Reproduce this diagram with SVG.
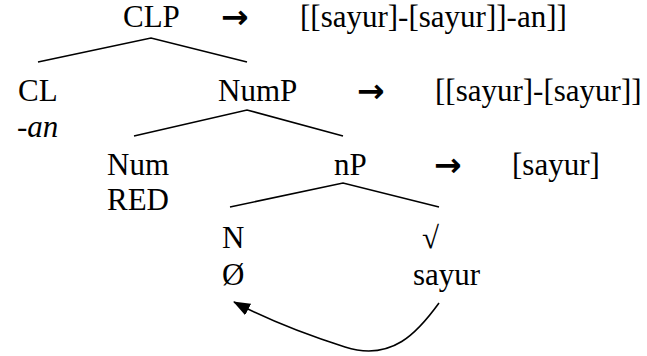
<svg xmlns="http://www.w3.org/2000/svg" width="647" height="356" viewBox="0 0 647 356">
<defs>
<marker id="ah" markerWidth="17" markerHeight="13" refX="16" refY="6.5" orient="auto" markerUnits="userSpaceOnUse">
<path d="M0,0 L17,6.5 L0,13 Z" fill="#000"/>
</marker>
</defs>
<g id="connectors" stroke="#000" stroke-width="1.6" fill="none">
<polyline points="38,62 151,38 247,62"/>
<polyline points="134,136 247,110 343,136"/>
<polyline points="230,207 343,183 439,207"/>
<path d="M439,303 C418,332 392,362 345,347 C310,336 272,322 234,302" marker-end="url(#ah)"/>
</g>
<g id="CLP"><text style="font-family:'Liberation Serif',serif;font-size:31px" x="123" y="27">CLP</text><text style="font-family:'DejaVu Sans',sans-serif;font-size:33px;font-weight:bold" x="221" y="28">→</text><text style="font-family:'Liberation Serif',serif;font-size:31px" x="300" y="27">[[sayur]-[sayur]]-an]]</text></g>
<g id="CL"><text style="font-family:'Liberation Serif',serif;font-size:31px" x="18" y="101">CL</text><text style="font-family:'Liberation Serif',serif;font-size:31px;font-style:italic" x="17" y="137">-an</text></g>
<g id="NumP"><text style="font-family:'Liberation Serif',serif;font-size:31px" x="218" y="101">NumP</text><text style="font-family:'DejaVu Sans',sans-serif;font-size:33px;font-weight:bold" x="357" y="102">→</text><text style="font-family:'Liberation Serif',serif;font-size:31px" x="435" y="101">[[sayur]-[sayur]]</text></g>
<g id="Num"><text style="font-family:'Liberation Serif',serif;font-size:31px" x="107" y="175">Num</text><text style="font-family:'Liberation Serif',serif;font-size:31px" x="107" y="210">RED</text></g>
<g id="nP"><text style="font-family:'Liberation Serif',serif;font-size:31px" x="334" y="175">nP</text><text style="font-family:'DejaVu Sans',sans-serif;font-size:33px;font-weight:bold" x="434" y="176">→</text><text style="font-family:'Liberation Serif',serif;font-size:31px" x="512" y="175">[sayur]</text></g>
<g id="N"><text style="font-family:'Liberation Serif',serif;font-size:31px" x="222" y="248">N</text><text style="font-family:'Liberation Serif',serif;font-size:31px" x="222" y="285">Ø</text></g>
<g id="root"><text style="font-family:'Liberation Serif',serif;font-size:31px" x="422" y="248">√</text><text style="font-family:'Liberation Serif',serif;font-size:31px" x="413" y="285">sayur</text></g>
</svg>
